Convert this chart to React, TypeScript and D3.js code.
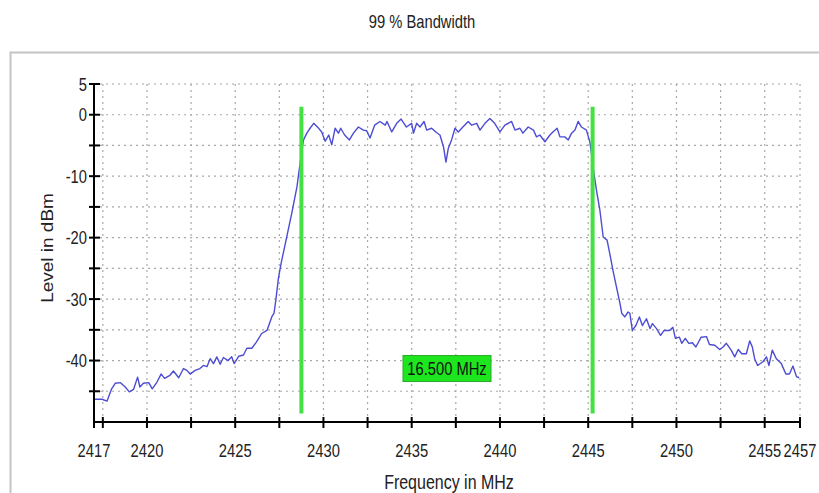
import React from "react";
import * as d3 from "d3";

// ---- data ----
const freqs = [
  2417.0, 2417.45, 2417.74, 2418.0, 2418.2, 2418.5, 2418.77, 2419.0, 2419.24, 2419.47,
  2419.6, 2419.8, 2420.1, 2420.3, 2420.57, 2420.8, 2421.0, 2421.3, 2421.5, 2421.8,
  2422.07, 2422.26, 2422.45, 2422.73, 2423.0, 2423.2, 2423.4, 2423.58, 2423.77, 2423.96,
  2424.15, 2424.33, 2424.6, 2424.8, 2424.94, 2425.2, 2425.47, 2425.66, 2425.94, 2426.2,
  2426.5, 2426.8, 2427.07, 2427.2, 2427.3, 2427.45, 2427.6, 2427.8, 2428.2, 2428.5,
  2428.7, 2428.87, 2429.06, 2429.24, 2429.45, 2429.7, 2429.9, 2430.1, 2430.3, 2430.47,
  2430.66, 2430.85, 2430.98, 2431.2, 2431.47, 2431.7, 2431.98, 2432.26, 2432.45, 2432.64,
  2432.9, 2433.2, 2433.5, 2433.6, 2433.87, 2434.15, 2434.4, 2434.7, 2435.0, 2435.1,
  2435.28, 2435.47, 2435.7, 2435.85, 2436.13, 2436.4, 2436.6, 2436.8, 2436.94, 2437.07,
  2437.26, 2437.45, 2437.64, 2437.9, 2438.2, 2438.4, 2438.68, 2438.87, 2439.15, 2439.43,
  2439.7, 2440.0, 2440.28, 2440.66, 2440.85, 2441.13, 2441.3, 2441.6, 2441.9, 2442.07,
  2442.26, 2442.55, 2442.83, 2443.0, 2443.24, 2443.4, 2443.67, 2443.87, 2444.06, 2444.25,
  2444.43, 2444.62, 2444.9, 2445.1, 2445.3, 2445.47, 2445.66, 2445.85, 2446.07, 2446.25,
  2446.4, 2446.6, 2446.8, 2446.9, 2447.07, 2447.26, 2447.36, 2447.5, 2447.7, 2447.9,
  2448.07, 2448.3, 2448.5, 2448.64, 2448.87, 2449.1, 2449.3, 2449.6, 2449.8, 2449.94,
  2450.17, 2450.3, 2450.5, 2450.7, 2450.9, 2451.1, 2451.4, 2451.7, 2451.87, 2452.17,
  2452.45, 2452.64, 2452.83, 2453.1, 2453.3, 2453.5, 2453.7, 2453.96, 2454.15, 2454.3,
  2454.43, 2454.6, 2454.9, 2455.1, 2455.24, 2455.43, 2455.66, 2455.94, 2456.2, 2456.4,
  2456.6, 2456.8, 2456.95,
];
const levels = [
  -46.3, -46.3, -46.6, -44.6, -43.7, -43.6, -44.3, -45.1, -44.7, -42.7,
  -44.3, -43.7, -43.6, -44.6, -43.5, -42.2, -42.9, -42.4, -41.7, -42.8,
  -41.3, -41.6, -42.2, -41.6, -41.3, -40.8, -41.0, -39.7, -40.5, -39.4,
  -40.6, -39.5, -40.0, -39.4, -40.5, -39.3, -39.1, -38.0, -38.0, -37.0,
  -35.6, -35.1, -32.9, -32.3, -30.2, -26.6, -24.2, -21.5, -16.1, -11.7,
  -7.4, -4.1, -3.0, -2.2, -1.4, -2.1, -2.8, -4.3, -3.3, -4.9,
  -2.2, -3.0, -2.2, -3.3, -4.1, -3.0, -2.0, -2.5, -2.6, -3.8,
  -1.7, -1.1, -1.7, -1.1, -2.8, -1.4, -0.7, -2.0, -1.4, -3.0,
  -1.4, -2.0, -1.1, -2.5, -2.2, -2.9, -3.3, -5.2, -7.7, -5.5,
  -4.1, -2.2, -2.8, -2.0, -1.1, -1.7, -1.4, -2.5, -1.4, -0.6,
  -1.4, -2.8, -1.7, -1.1, -2.5, -2.2, -3.0, -2.0, -2.5, -3.6,
  -3.3, -4.4, -3.3, -2.8, -2.2, -3.6, -3.6, -4.1, -3.0, -2.5,
  -1.1, -2.0, -2.5, -4.5, -9.0, -12.3, -15.5, -19.9, -20.4, -23.0,
  -25.3, -28.0, -30.7, -32.3, -32.9, -32.1, -32.3, -35.1, -34.3, -32.9,
  -34.3, -33.2, -34.8, -34.0, -34.8, -35.9, -35.1, -35.1, -34.6, -36.4,
  -36.2, -37.2, -36.4, -37.2, -37.1, -37.8, -36.2, -36.1, -37.4, -37.5,
  -38.2, -37.8, -37.2, -38.3, -39.4, -38.2, -38.9, -38.9, -36.8, -37.8,
  -39.7, -40.8, -40.2, -39.4, -40.8, -38.3, -39.7, -40.5, -42.2, -42.2,
  -40.9, -42.6, -42.8,
];
const markerFreqs = [2428.75, 2445.25];
const markerLevels = [1.3, -48.6];
const bandwidthText = "16.500 MHz";
const labelLevel = -41.3;
const xTickValues = [2417, 2417.5, 2420, 2422.5, 2425, 2427.5, 2430, 2432.5, 2435, 2437.5, 2440, 2442.5, 2445, 2447.5, 2450, 2452.5, 2455, 2457];
const xTickLabels = [2417, 2420, 2425, 2430, 2435, 2440, 2445, 2450, 2455, 2457];
const xGridValues = [2417.5, 2420, 2422.5, 2425, 2427.5, 2430, 2432.5, 2435, 2437.5, 2440, 2442.5, 2445, 2447.5, 2450, 2452.5, 2455, 2457];
const yTickValues = [5, 0, -5, -10, -15, -20, -25, -30, -35, -40, -45];
const yTickLabels = [5, 0, -10, -20, -30, -40];
const titleText = "99 % Bandwidth";
const xTitle = "Frequency in MHz";
const yTitle = "Level in dBm";

const W = 819;
const H = 493;
const FONT = "'Liberation Sans', Arial, sans-serif";
const SQ = 0.82;

function T(props: { x: number; y: number; anchor?: string; size?: number; children: React.ReactNode; fill?: string }) {
  const { x, y, anchor = "middle", size = 18, fill = "#222" } = props;
  return (
    <g transform={`translate(${x},${y}) scale(${SQ},1)`}>
      <text x={0} y={0} textAnchor={anchor as any} fontFamily={FONT} fontSize={size} fill={fill}>
        {props.children}
      </text>
    </g>
  );
}

export default function App() {
  const x = d3.scaleLinear().domain([2417, 2457]).range([94, 800]);
  const y = d3.scaleLinear().domain([5, -50]).range([84, 422]);
  const line = d3
    .line<number>()
    .x((_, i) => x(freqs[i]))
    .y((d) => y(d));
  const path = line(levels) || "";
  const xMid = (x(markerFreqs[0]) + x(markerFreqs[1])) / 2;
  const grid = "#a8a8a8";

  return (
    <svg width={W} height={H} style={{ position: "absolute", left: 0, top: 0, background: "#fff" }}>
      <rect x={0} y={0} width={W} height={H} fill="#fff" />
      <T x={422} y={28} size={18}>{titleText}</T>
      {/* frame */}
      <path d={`M10.5,${H} L10.5,52.5 L${W},52.5`} fill="none" stroke="#c4c4c4" strokeWidth={2} />
      {/* grid */}
      {xGridValues.map((v) => (
        <line key={"gx" + v} x1={x(v)} x2={x(v)} y1={y(5)} y2={y(-50)} stroke={grid} strokeWidth={1.2} strokeDasharray="2,4" />
      ))}
      {yTickValues.map((v) => (
        <line key={"gy" + v} x1={x(2417)} x2={x(2457)} y1={y(v)} y2={y(v)} stroke={grid} strokeWidth={1.2} strokeDasharray="2,4" />
      ))}
      {/* trace */}
      <path d={path} fill="none" stroke="#4c4cd4" strokeWidth={1.4} strokeLinejoin="round" />
      {/* markers */}
      {markerFreqs.map((f) => (
        <line key={"m" + f} x1={x(f)} x2={x(f)} y1={y(markerLevels[0])} y2={y(markerLevels[1])} stroke="#44e044" strokeWidth={4} />
      ))}
      <rect x={xMid - 44} y={y(labelLevel) - 13} width={88} height={26} fill="#1ee61e" stroke="#2aa82a" strokeWidth={1} />
      <T x={xMid} y={y(labelLevel) + 6.5} fill="#111">{bandwidthText}</T>
      {/* axes */}
      <line x1={x(2417)} x2={x(2417)} y1={y(5)} y2={y(-50)} stroke="#000" strokeWidth={2} />
      <line x1={x(2417)} x2={x(2457)} y1={y(-50)} y2={y(-50)} stroke="#000" strokeWidth={2} />
      {yTickValues.map((v) => (
        <line key={"ty" + v} x1={x(2417) - 5} x2={x(2417) + 6} y1={y(v)} y2={y(v)} stroke="#000" strokeWidth={2} />
      ))}
      {xTickValues.map((v) => (
        <line key={"tx" + v} x1={x(v)} x2={x(v)} y1={y(-50) - 5} y2={y(-50) + 6} stroke="#000" strokeWidth={2} />
      ))}
      {yTickLabels.map((v) => (
        <T key={"ly" + v} x={87} y={y(v) + 6.5} anchor="end">{v}</T>
      ))}
      {xTickLabels.map((v) => (
        <T key={"lx" + v} x={x(v)} y={457}>{v}</T>
      ))}
      <T x={449} y={489} size={19.5}>{xTitle}</T>
      <g transform={`translate(53,248) scale(${SQ},1) rotate(-90)`}>
        <text x={0} y={0} textAnchor="middle" fontFamily={FONT} fontSize={19} fill="#222">
          {yTitle}
        </text>
      </g>
    </svg>
  );
}
